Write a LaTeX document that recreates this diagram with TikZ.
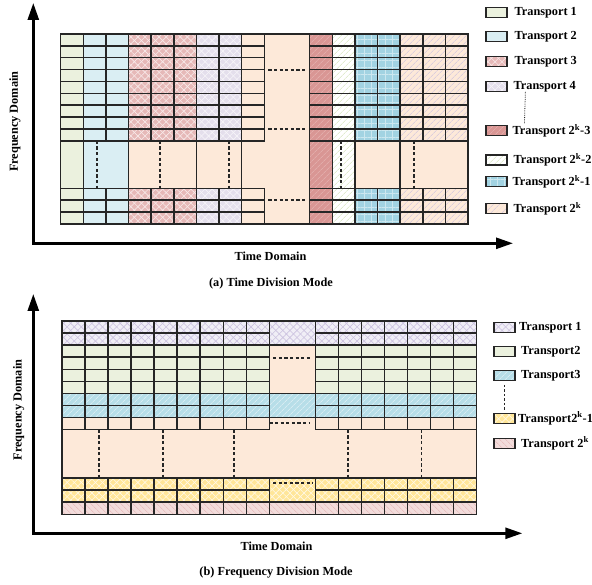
\documentclass[tikz,border=0pt]{standalone}
\usepackage{fontspec}
\setmainfont{Liberation Serif}
\usepackage{xcolor}
\usepackage{tikz}
\usetikzlibrary{positioning,arrows.meta,patterns.meta}

\definecolor{gridc}{HTML}{262626}
\definecolor{tgreen}{HTML}{EBF1DE}
\definecolor{tblue}{HTML}{DAEEF3}
\definecolor{tred}{HTML}{E6B9B8}
\definecolor{tpurple}{HTML}{E4DFEC}
\definecolor{tpeach}{HTML}{FDE9D9}
\definecolor{tdred}{HTML}{D99694}
\definecolor{tmblue}{HTML}{A2D3E2}
\definecolor{tsblue}{HTML}{B7DEE8}
\definecolor{tyellow}{HTML}{FFE699}
\definecolor{tpink}{HTML}{F2DCDB}
\definecolor{tgray}{HTML}{F0EEF6}
\definecolor{hlav}{HTML}{CBC1DF}
\definecolor{hgreen}{HTML}{D2E2B4}
\definecolor{hpink}{HTML}{E4B4B4}
\definecolor{hdred}{HTML}{E8B8B7}

\begin{document}
\begin{tikzpicture}[
  x=1pt, y=-1pt,
  lbl/.style={font=\bfseries\fontsize{12.3}{14}\selectfont, inner sep=0},
  cellline/.style={draw=gridc, line width=1.5pt, line cap=rect},
  dashline/.style={draw=gridc, line width=1.8pt, dash pattern=on 3.2pt off 2.4pt},
  axis/.style={line width=2.6pt, {Triangle[length=17pt,width=11pt]}-{Triangle[length=17pt,width=11pt]}},
  lbox/.style={minimum width=21pt, minimum height=10pt, inner sep=0, postaction={draw=gridc, line width=1.5pt}},
  lat/.style={postaction={pattern={Lines[angle=45,distance=5pt,line width=.6pt]}, pattern color=#1},
              postaction={pattern={Lines[angle=-45,distance=5pt,line width=.6pt]}, pattern color=#1}},
  hne/.style={postaction={pattern={Lines[angle=45,distance=4pt,line width=.5pt]}, pattern color=#1}},
  hnw/.style={postaction={pattern={Lines[angle=-45,distance=4pt,line width=.5pt]}, pattern color=#1}},
  sqr/.style={postaction={pattern={Lines[angle=0,distance=7pt,line width=.4pt]}, pattern color=#1},
              postaction={pattern={Lines[angle=90,distance=7pt,line width=.4pt]}, pattern color=#1}},
  blank/.style={fill=tpeach},
  ta1/.style={fill=tgreen},
  ta2/.style={fill=tblue},
  ta3/.style={fill=tred, lat=white!70!tred},
  ta4/.style={fill=tpurple, lat=white!70!tpurple},
  tak3/.style={fill=tdred, hne=hdred},
  tak2/.style={fill=white, hne=hgreen},
  tak1/.style={fill=tmblue, sqr=white!45!tmblue},
  tak/.style={fill=tpeach, hne=hlav},
  tb1/.style={fill=tgray, lat=hlav},
  tb2/.style={fill=tgreen},
  tb3/.style={fill=tsblue, hne=white!70!tsblue},
  tbk1/.style={fill=tyellow, lat=white!75!tyellow},
  tbk/.style={fill=tpink, hnw=hpink},
]
\useasboundingbox (0,0) rectangle (592,585);

% (a) time division
\begin{scope}[shift={(60.7,34)}, x=22.63pt, y=-11.875pt]
  \fill[ta1] (0,0) rectangle (1,16);
  \fill[ta2] (1,0) rectangle (3,16);
  \fill[ta3] (3,0) rectangle (6,16);
  \fill[ta4] (6,0) rectangle (8,16);
  \fill[blank] (8,0) rectangle (11,16);
  \fill[tak3] (11,0) rectangle (12,16);
  \fill[tak2] (12,0) rectangle (13,16);
  \fill[tak1] (13,0) rectangle (15,16);
  \fill[tak] (15,0) rectangle (18,16);
  \fill[blank] (3,9) rectangle (8,13);
  \fill[blank] (13,9) rectangle (18,13);
  \foreach \r in {1,2,3,4,5,6,7,8,9,13,14,15} {
    \draw[cellline] (0,\r) -- (9,\r);
    \draw[cellline] (11,\r) -- (18,\r);
  }
  \foreach \c in {1,2,3,4,5,6,7,8,9,11,12,13,14,15,16,17} {
    \draw[cellline] (\c,0) -- (\c,9);
    \draw[cellline] (\c,13) -- (\c,16);
  }
  \foreach \c in {1,3,6,8,11,12,13,15}
    \draw[cellline] (\c,9) -- (\c,13);
  \draw[cellline] (0,0) rectangle (18,16);
  \foreach \r in {3,8,14}
    \draw[dashline] (9.18,\r) -- (10.85,\r);
  \foreach \c in {1.6,4.4,7.45,12.4,15.6}
    \draw[dashline] (\c,9) -- (\c,13);
\end{scope}

\coordinate (oa) at (33.3,243.3);
\coordinate (ya) at (33.3,3);
\coordinate (xa) at (513,243.3);
\draw[axis] (ya) -- (oa) -- (xa);
\node[lbl, rotate=90] (fa) at (15,121.7) {Frequency Domain};
\node[lbl] (tda) at (270.5,256.7) {Time Domain};
\node[lbl] (capa) at (271,283.3) {(a) Time Division Mode};

% legend (a)
\node[ta1, lbox] (la1) at (496.7,12.7) {};
\node[ta2, lbox] (la2) at (496.7,36.7) {};
\node[ta3, lbox] (la3) at (496.7,61.7) {};
\node[ta4, lbox] (la4) at (496.7,86.3) {};
\node[tak3, lbox] (la5) at (496.7,130.7) {};
\node[tak2, lbox] (la6) at (496.7,160) {};
\node[tak1, lbox] (la7) at (496.7,181.7) {};
\node[tak, lbox] (la8) at (496.7,208.7) {};
\node[lbl, right=7pt of la1] (lt1) {Transport 1};
\node[lbl, right=7pt of la2] (lt2) {Transport 2};
\node[lbl, right=7pt of la3] (lt3) {Transport 3};
\node[lbl, right=6pt of la4] (lt4) {Transport 4};
\node[lbl, right=5pt of la5] (lt5) {Transport 2\textsuperscript{k}-3};
\node[lbl, right=6pt of la6] (lt6) {Transport 2\textsuperscript{k}-2};
\node[lbl, right=5pt of la7] (lt7) {Transport 2\textsuperscript{k}-1};
\node[lbl, right=6pt of la8] (lt8) {Transport 2\textsuperscript{k}};
\draw[gridc, densely dotted, line width=.8pt] ([xshift=12pt]lt4.south west) -- ([xshift=12pt]lt5.north west);

% (b) frequency division
\begin{scope}[shift={(62,321)}, x=23.04pt, y=-12.08pt]
  \fill[tb1] (0,0) rectangle (18,2);
  \fill[tb2] (0,2) rectangle (18,6);
  \fill[tb3] (0,6) rectangle (18,8);
  \fill[blank] (0,8) rectangle (18,13);
  \fill[tbk1] (0,13) rectangle (18,15);
  \fill[tbk] (0,15) rectangle (18,16);
  \fill[blank] (9,2) rectangle (11,6);
  \foreach \r in {1,2,3,4,5,6,7,8,9,13,14,15} {
    \draw[cellline] (0,\r) -- (9,\r);
    \draw[cellline] (11,\r) -- (18,\r);
  }
  \foreach \r in {2,6,8,13,15}
    \draw[cellline] (9,\r) -- (11,\r);
  \foreach \c in {1,2,3,4,5,6,7,8,9,11,12,13,14,15,16,17} {
    \draw[cellline] (\c,0) -- (\c,9);
    \draw[cellline] (\c,13) -- (\c,16);
  }
  \draw[cellline] (0,0) rectangle (18,16);
  \draw[dashline] (9.17,3.04) -- (10.84,3.04);
  \draw[dashline] (9,8.42) -- (10.72,8.42);
  \draw[dashline] (9.16,13.38) -- (10.9,13.38);
  \foreach \c in {1.6,4.4,7.45,12.4,15.6}
    \draw[dashline] (\c,9) -- (\c,13);
\end{scope}

\coordinate (ob) at (33.3,533.3);
\coordinate (yb) at (33.3,294);
\coordinate (xb) at (522.3,533.3);
\draw[axis] (yb) -- (ob) -- (xb);
\node[lbl, rotate=90] (fb) at (18.7,410) {Frequency Domain};
\node[lbl] (tdb) at (276.5,546.7) {Time Domain};
\node[lbl] (capb) at (276,572.7) {(b) Frequency Division Mode};

% legend (b)
\node[tb1, lbox] (lb1) at (504.3,327.3) {};
\node[tb2, lbox] (lb2) at (504.3,351.7) {};
\node[tb3, lbox] (lb3) at (504.3,375.7) {};
\node[tbk1, lbox] (lb4) at (504.3,418.3) {};
\node[tbk, lbox] (lb5) at (504.3,443.3) {};
\node[lbl, right=4pt of lb1] (lu1) {Transport 1};
\node[lbl, right=6pt of lb2] (lu2) {Transport2};
\node[lbl, right=6pt of lb3] (lu3) {Transport3};
\node[lbl, right=3pt of lb4] (lu4) {Transport2\textsuperscript{k}-1};
\node[lbl, right=6pt of lb5] (lu5) {Transport 2\textsuperscript{k}};
\draw[gridc, line width=1.4pt, dash pattern=on 2.5pt off 2pt, shorten <=4pt, shorten >=3pt] (lb3.south) -- (lb4.north);
\end{tikzpicture}
\end{document}
